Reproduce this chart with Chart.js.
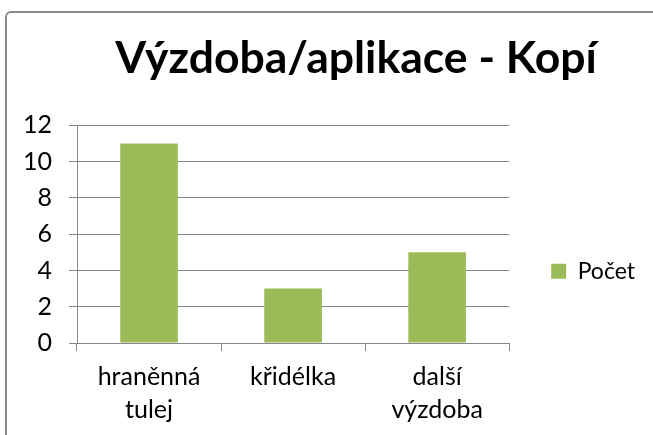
<!DOCTYPE html>
<html>
<head>
<meta charset="utf-8">
<script src="https://cdn.jsdelivr.net/npm/chart.js@4"></script>
<style>
    html, body { margin: 0; padding: 0; background: #fff; overflow: hidden; }
    body { width: 653px; height: 435px; position: relative; }
    #frame {
        position: absolute; left: 5px; top: 11px;
        width: 720px; height: 500px;
        border: 2px solid #8c8c8c; border-radius: 6px;
    }
    #chart { position: absolute; left: 0; top: 0; }
</style>
</head>
<body>
<div id="frame"></div>
<canvas id="chart" width="703" height="435"></canvas>
<script>
// Chart data
const chartTitle = 'Výzdoba/aplikace - Kopí';
const categories = [['hraněnná', 'tulej'], 'křidélka', ['další', 'výzdoba']];
const seriesName = 'Počet';
const seriesValues = [11, 3, 5];
const yTicks = [0, 2, 4, 6, 8, 10, 12];

const barColor = '#9BBB59';
const gridColor = '#878787';
const fontFamily = 'Lato, Carlito, Calibri, sans-serif';
const legendShift = 37;

// push the legend down a bit, Excel puts it lower than centre
const legendOffset = {
    id: 'legendOffset',
    afterLayout(chart) {
        if (chart.legend) {
            chart.legend.top += legendShift;
            chart.legend.bottom += legendShift;
        }
    }
};

const ctx = document.getElementById('chart').getContext('2d');
new Chart(ctx, {
    type: 'bar',
    data: {
        labels: categories,
        datasets: [{
            label: seriesName,
            data: seriesValues,
            backgroundColor: barColor,
            borderWidth: 0,
            barPercentage: 0.4,
            categoryPercentage: 1
        }]
    },
    options: {
        responsive: false,
        animation: false,
        devicePixelRatio: 1,
        layout: {
            padding: { top: 12, left: 17, right: 8, bottom: 0 }
        },
        plugins: {
            title: {
                display: true,
                text: chartTitle,
                color: '#000',
                font: { family: fontFamily, size: 44.5, weight: 'bold', lineHeight: 1.2 },
                padding: { top: 20, bottom: 40 }
            },
            legend: {
                position: 'right',
                fullSize: false,
                labels: {
                    color: '#000',
                    boxWidth: 15,
                    boxHeight: 15,
                    padding: 42,
                    font: { family: fontFamily, size: 23 }
                }
            },
            tooltip: { enabled: false }
        },
        scales: {
            x: {
                offset: true,
                border: { color: gridColor, width: 1 },
                grid: {
                    offset: true,
                    drawOnChartArea: false,
                    drawTicks: true,
                    tickLength: 8,
                    color: gridColor
                },
                ticks: {
                    color: '#000',
                    padding: 9,
                    maxRotation: 0,
                    autoSkip: false,
                    font: { family: fontFamily, size: 25, lineHeight: 1.32 }
                }
            },
            y: {
                min: yTicks[0],
                max: yTicks[yTicks.length - 1],
                afterBuildTicks: scale => {
                    scale.ticks = yTicks.map(v => ({ value: v }));
                },
                afterFit: scale => {
                    scale.width = 60;
                },
                border: { color: gridColor, width: 1 },
                grid: {
                    color: gridColor,
                    tickLength: 8
                },
                ticks: {
                    color: '#000',
                    padding: 17,
                    font: { family: fontFamily, size: 25 }
                }
            },
            // hidden box on the far right so the legend sits where Excel has it
            spacer: {
                type: 'linear',
                position: 'right',
                weight: 2000,
                display: false,
                afterFit: scale => {
                    scale.width = 50;
                }
            }
        }
    },
    plugins: [legendOffset]
});
</script>
</body>
</html>
